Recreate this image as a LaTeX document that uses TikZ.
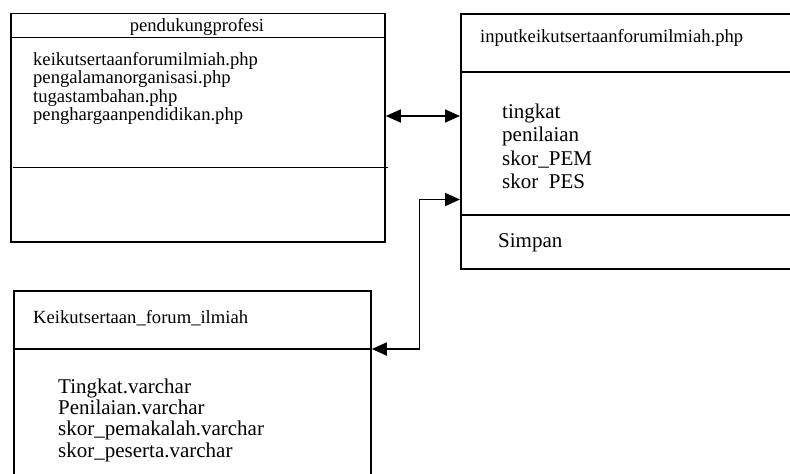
\documentclass[tikz,border=0pt]{standalone}
\usepackage{fontspec}
\setmainfont{Liberation Serif}
\usetikzlibrary{arrows.meta}
\begin{document}
\begin{tikzpicture}[x=1pt,y=-1pt]
\tikzstyle{box}=[draw,rectangle,line width=1.8pt,inner sep=0pt,anchor=north west]
\tikzstyle{rule}=[line width=1.8pt]
\tikzstyle{small}=[anchor=base west,inner sep=0pt,font=\fontsize{18.6}{18.3}\selectfont]
\tikzstyle{large}=[anchor=base west,inner sep=0pt,font=\fontsize{21}{23.5}\selectfont]
\tikzstyle{link}=[line width=1.8pt,{Triangle[length=15pt,width=13pt]}-{Triangle[length=15pt,width=13pt]}]
\useasboundingbox (0,0) rectangle (790,474);
\clip (0,0) rectangle (790,474);
% pendukungprofesi
\node at(10,12.5) (prof) [box,minimum width=374pt,minimum height=228.5pt]{};
\draw[rule] (prof.west |- 0,37.5) -- (prof.east |- 0,37.5);
\draw[rule] (13,167.5) -- (388,167.5);
\node at(197,31.5) (profhead) [small,anchor=base]{pendukungprofesi};
\node at(33,65.5) (p1) [small]{keikutsertaanforumilmiah.php};
\node at(33,83.8) (p2) [small]{pengalamanorganisasi.php};
\node at(33,102.1) (p3) [small]{tugastambahan.php};
\node at(33,120.4) (p4) [small]{penghargaanpendidikan.php};
% inputkeikutsertaanforumilmiah.php
\node at(460,13) (input) [box,minimum width=345pt,minimum height=255pt]{};
\draw[rule] (input.west |- 0,72) -- (input.east |- 0,72);
\draw[rule] (input.west |- 0,215) -- (input.east |- 0,215);
\node at(480,42) (inhead) [small]{inputkeikutsertaanforumilmiah.php};
\node at(502,118) (i1) [large]{tingkat};
\node at(502,141.5) (i2) [large]{penilaian};
\node at(502,165) (i3) [large]{skor\_PEM};
\node at(502,188.5) (i4) [large]{skor\ \ PES};
\node at(498,247) (save) [large]{Simpan};
% Keikutsertaan_forum_ilmiah
\node at(13,290) (kfi) [box,minimum width=357pt,minimum height=200pt]{};
\draw[rule] (kfi.west |- 0,349) -- (kfi.east |- 0,349);
\node at(33,323) (kfihead) [small]{Keikutsertaan\_forum\_ilmiah};
\node at(58,393) (k1) [large]{Tingkat.varchar};
\node at(58,414.3) (k2) [large]{Penilaian.varchar};
\node at(58,435.6) (k3) [large]{skor\_pemakalah.varchar};
\node at(58,457) (k4) [large]{skor\_peserta.varchar};
% connectors
\coordinate (bend) at (419.5,199.5);
\draw[link] (prof.east |- 0,116) -- (input.west |- 0,116);
\draw[link] (input.west |- bend) -- (bend) |- (kfi.east |- 0,349);
\end{tikzpicture}
\end{document}
